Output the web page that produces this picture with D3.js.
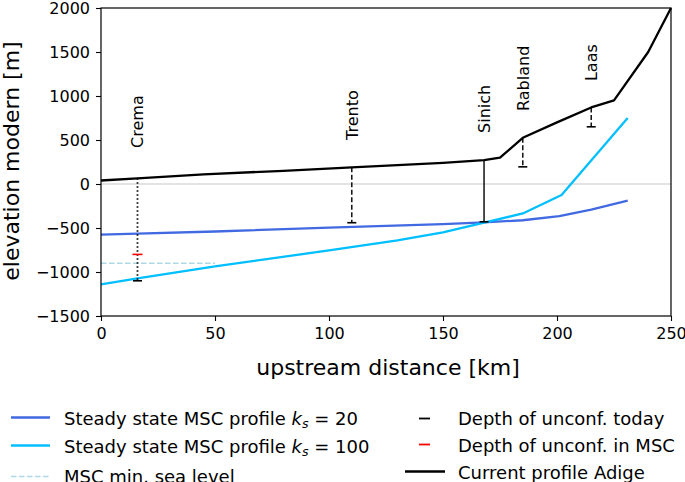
<!DOCTYPE html>
<html><head><meta charset="utf-8">
<script src="https://cdn.jsdelivr.net/npm/d3@7"></script>
<style>body{margin:0;background:#fff}text{font-family:"DejaVu Sans",sans-serif}</style>
</head><body>
<script>
// Data
const profileX = [0, 16, 45, 80, 110, 130, 150, 168, 175, 185, 200, 215, 225, 240, 250];
const profileY = [40, 65, 110, 150, 190, 215, 240, 272, 300, 525, 700, 870, 950, 1500, 2000];
const ks20X = [0, 16, 50, 100, 150, 168, 185, 201, 215, 231];
const ks20Y = [-575, -565, -540, -495, -455, -435, -412, -365, -290, -190];
const ks100X = [0, 16, 50, 100, 130, 150, 168, 185, 202, 231];
const ks100Y = [-1140, -1072, -935, -755, -640, -550, -440, -335, -125, 750];
const seaLevelX = [0, 50];
const seaLevelY = [-900, -900];
const siteNames = ["Crema", "Trento", "Sinich", "Rabland", "Laas"];
const siteX = [16, 110, 168, 185, 215];
const siteTop = [65, 190, 272, 525, 870];
const siteDepthToday = [-1100, -440, -430, 195, 650];
const siteStyle = ["dotted", "dashed", "solid", "dashed", "dashed"];
const siteLabelY = [410, 500, 580, 830, 1170];
const mscDepthX = [16];
const mscDepthY = [-800];
const xTicks = [0, 50, 100, 150, 200, 250];
const yTicks = [-1500, -1000, -500, 0, 500, 1000, 1500, 2000];

const W = 685, H = 482;
const L = 101, R = 671, T = 8, B = 316;
const svg = d3.select("body").append("svg").attr("width", W).attr("height", H);
const x = d3.scaleLinear().domain([0, 250]).range([L, R]);
const y = d3.scaleLinear().domain([-1500, 2000]).range([B, T]);

// zero line
svg.append("line").attr("x1", x(0)).attr("x2", x(250)).attr("y1", y(0)).attr("y2", y(0))
  .attr("stroke", "#c8c8c8").attr("stroke-width", 1.2);

const line = d3.line().x(d => x(d[0])).y(d => y(d[1]));
function draw(xs, ys, color, w, dash) {
  const p = svg.append("path").datum(xs.map((v, i) => [v, ys[i]])).attr("d", line)
    .attr("fill", "none").attr("stroke", color).attr("stroke-width", w).attr("stroke-linejoin", "round");
  if (dash) p.attr("stroke-dasharray", dash);
}
draw(seaLevelX, seaLevelY, "#add8e6", 1.6, "5.5,2.5");
draw(ks20X, ks20Y, "#4169e1", 2.3);
draw(ks100X, ks100Y, "#00bfff", 2.3);

// site verticals
const dashes = { dotted: "1.5,2.5", dashed: "5,2.5", solid: null };
siteX.forEach((sx, i) => {
  const l = svg.append("line").attr("x1", x(sx)).attr("x2", x(sx))
    .attr("y1", y(siteTop[i])).attr("y2", y(siteDepthToday[i]))
    .attr("stroke", "#000").attr("stroke-width", siteStyle[i] === "dotted" ? 1.8 : 1.4);
  if (dashes[siteStyle[i]]) l.attr("stroke-dasharray", dashes[siteStyle[i]]);
  svg.append("line").attr("x1", x(sx) - 4.5).attr("x2", x(sx) + 4.5)
    .attr("y1", y(siteDepthToday[i])).attr("y2", y(siteDepthToday[i]))
    .attr("stroke", "#000").attr("stroke-width", 1.6);
  svg.append("text").attr("transform", `translate(${x(sx) + 5.8},${y(siteLabelY[i])}) rotate(-90)`)
    .attr("font-size", 16).text(siteNames[i]);
});
mscDepthX.forEach((mx, i) => {
  svg.append("line").attr("x1", x(mx) - 5).attr("x2", x(mx) + 5)
    .attr("y1", y(mscDepthY[i])).attr("y2", y(mscDepthY[i]))
    .attr("stroke", "red").attr("stroke-width", 1.6);
});

draw(profileX, profileY, "#000", 2.3);

// frame
svg.append("rect").attr("x", L).attr("y", T).attr("width", R - L).attr("height", B - T)
  .attr("fill", "none").attr("stroke", "#000").attr("stroke-width", 1.2);

const xa = svg.append("g").attr("transform", `translate(0,${B})`)
  .call(d3.axisBottom(x).tickValues(xTicks).tickSize(5).tickPadding(7).tickFormat(d3.format("d")));
const ya = svg.append("g").attr("transform", `translate(${L},0)`)
  .call(d3.axisLeft(y).tickValues(yTicks).tickSize(5).tickPadding(6).tickFormat(d => d < 0 ? "\u2212" + Math.abs(d) : d));
[xa, ya].forEach(a => {
  a.select(".domain").remove();
  a.selectAll("line").attr("stroke", "#000").attr("stroke-width", 1.1);
  a.selectAll("text").attr("font-size", 16).attr("fill", "#000").attr("font-family", "DejaVu Sans");
});

svg.append("text").attr("x", (L + R) / 2 + 2).attr("y", 375).attr("text-anchor", "middle")
  .attr("font-size", 22).text("upstream distance [km]");
svg.append("text").attr("transform", `translate(18.5,${(T + B) / 2 - 1}) rotate(-90)`)
  .attr("text-anchor", "middle").attr("font-size", 22).text("elevation modern [m]");

// legend
const legFs = 18;
const leg = svg.append("g");
function legText(xp, yp, parts) {
  const t = leg.append("text").attr("x", xp).attr("y", yp).attr("font-size", legFs);
  parts.forEach(p => {
    const s = t.append("tspan").text(p.t);
    if (p.i) s.attr("font-style", "italic");
    if (p.sub) s.attr("baseline-shift", "-25%").attr("font-size", legFs * 0.7);
  });
}
function legLine(x1, x2, yp, color, w, dash) {
  const l = leg.append("line").attr("x1", x1).attr("x2", x2).attr("y1", yp).attr("y2", yp)
    .attr("stroke", color).attr("stroke-width", w);
  if (dash) l.attr("stroke-dasharray", dash);
}
legLine(11, 50, 417.5, "#4169e1", 2.3);
legText(64, 425, [{t: "Steady state MSC profile "}, {t: "k", i: 1}, {t: "s", i: 1, sub: 1}, {t: " = 20"}]);
legLine(11, 50, 445.5, "#00bfff", 2.3);
legText(64, 453, [{t: "Steady state MSC profile "}, {t: "k", i: 1}, {t: "s", i: 1, sub: 1}, {t: " = 100"}]);
legLine(11, 50, 476.5, "#add8e6", 1.6, "5.5,2.5");
legText(64, 483, [{t: "MSC min. sea level"}]);
legLine(419, 430, 418.5, "#000", 1.8);
legText(458, 425, [{t: "Depth of unconf. today"}]);
legLine(419, 430, 444.5, "red", 1.8);
legText(458, 452, [{t: "Depth of unconf. in MSC"}]);
legLine(405, 445, 471.5, "#000", 2.5);
legText(458, 478.5, [{t: "Current profile Adige"}]);
</script>
</body></html>
